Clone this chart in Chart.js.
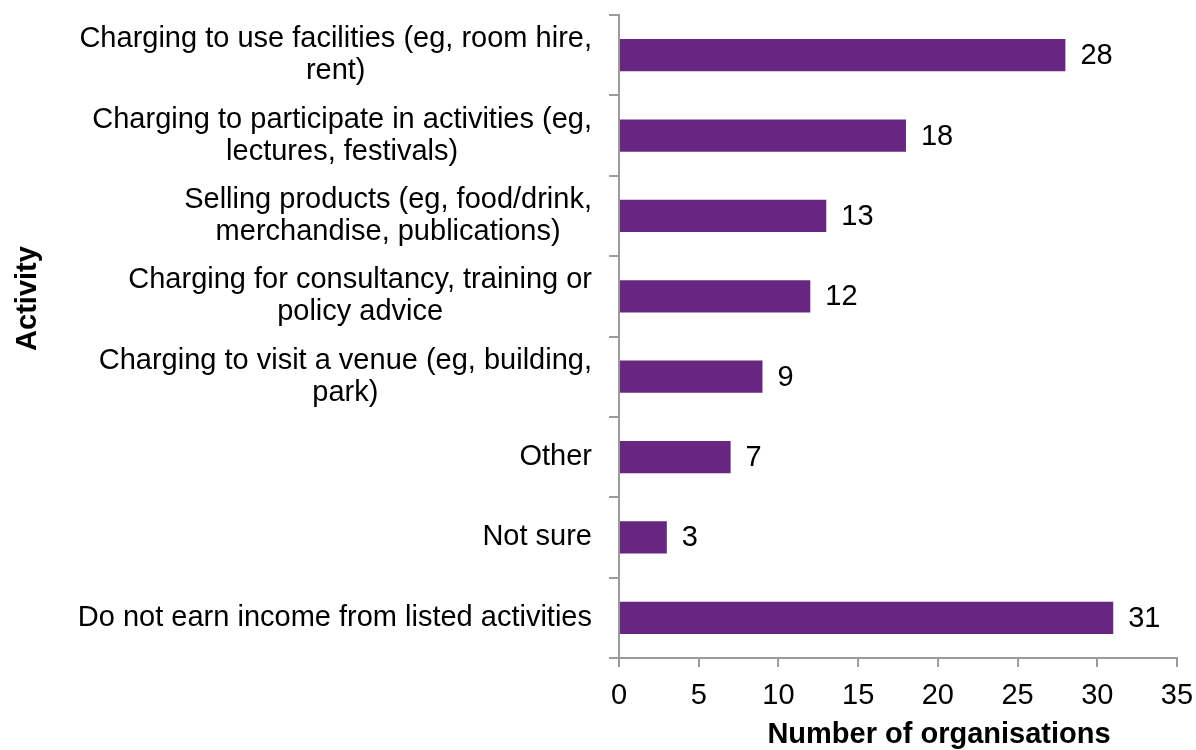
<!DOCTYPE html>
<html>
<head>
<meta charset="utf-8">
<title>Income-earning activities</title>
<script src="https://cdn.jsdelivr.net/npm/chart.js@4.4.0/dist/chart.umd.min.js"></script>
<style>
    html, body { margin: 0; padding: 0; background: #fff; }
    #wrap { width: 1196px; height: 750px; position: relative; }
</style>
</head>
<body>
<div id="wrap"><canvas id="graph" width="1196" height="750"></canvas></div>
<script>
// Catégories (lignes déjà coupées) et valeurs
const activities = [
    ["Charging to use facilities (eg, room hire,", "rent)"],
    ["Charging to participate in activities (eg,", "lectures, festivals)"],
    ["Selling products (eg, food/drink,", "merchandise, publications)"],
    ["Charging for consultancy, training or", "policy advice"],
    ["Charging to visit a venue (eg, building,", "park)"],
    ["Other"],
    ["Not sure"],
    ["Do not earn income from listed activities"]
];
const organisations = [28, 18, 13, 12, 9, 7, 3, 31];
const xMin = 0;
const xMax = 35;
const xStep = 5;
const xTitle = "Number of organisations";
const yTitle = "Activity";

const FONT = "'Liberation Sans', Arial, sans-serif";
const FONT_SIZE = 29;
const AXIS_COLOR = "#9b9b9b";
const BAR_COLOR = "#67267f";

// Étiquettes de l'axe Y : bloc aligné à droite, lignes centrées dans le bloc
const yLabelsPlugin = {
    id: "yLabels",
    afterDraw(chart) {
        const ctx = chart.ctx;
        const yScale = chart.scales.y;
        const right = chart.chartArea.left - 27;
        const lineH = 32;
        ctx.save();
        ctx.font = FONT_SIZE + "px " + FONT;
        ctx.fillStyle = "#000";
        ctx.textAlign = "center";
        ctx.textBaseline = "middle";
        activities.forEach((lines, i) => {
            const py = yScale.getPixelForTick(i);
            const blockW = Math.max(...lines.map(l => ctx.measureText(l).width));
            const cx = right - blockW / 2;
            const y0 = py - (lines.length - 1) * lineH / 2;
            lines.forEach((l, j) => ctx.fillText(l, cx, y0 + j * lineH));
        });
        ctx.restore();
    }
};

// Valeurs à droite des barres
const valueLabelsPlugin = {
    id: "valueLabels",
    afterDatasetsDraw(chart) {
        const ctx = chart.ctx;
        const meta = chart.getDatasetMeta(0);
        ctx.save();
        ctx.font = FONT_SIZE + "px " + FONT;
        ctx.fillStyle = "#000";
        ctx.textAlign = "left";
        ctx.textBaseline = "middle";
        meta.data.forEach((bar, i) => {
            ctx.fillText(String(organisations[i]), bar.x + 15, bar.y + 1);
        });
        ctx.restore();
    }
};

// Titres des axes
const axisTitlesPlugin = {
    id: "axisTitles",
    afterDraw(chart) {
        const ctx = chart.ctx;
        const area = chart.chartArea;
        ctx.save();
        ctx.font = "bold " + FONT_SIZE + "px " + FONT;
        ctx.fillStyle = "#000";
        ctx.textAlign = "center";
        ctx.textBaseline = "middle";
        ctx.fillText(xTitle, (area.left + area.right) / 2 + 41, chart.height - 15);
        ctx.translate(28, (area.top + area.bottom) / 2 - 38);
        ctx.rotate(-Math.PI / 2);
        ctx.fillText(yTitle, 0, 0);
        ctx.restore();
    }
};

const ctx = document.getElementById("graph").getContext("2d");
const graph = new Chart(ctx, {
    type: "bar",
    data: {
        labels: activities,
        datasets: [{
            label: xTitle,
            data: organisations,
            backgroundColor: BAR_COLOR,
            borderWidth: 0,
            categoryPercentage: 0.8,
            barPercentage: 0.5
        }]
    },
    options: {
        indexAxis: "y",
        responsive: false,
        animation: false,
        layout: { padding: { top: 15, right: 19, left: 0, bottom: 0 } },
        plugins: {
            legend: { display: false },
            tooltip: { enabled: false }
        },
        scales: {
            x: {
                min: xMin,
                max: xMax,
                afterFit: scale => {
                    scale.height = 92;
                    scale.paddingLeft = 0;
                    scale.paddingRight = 0;
                },
                ticks: {
                    stepSize: xStep,
                    color: "#000",
                    font: { family: FONT, size: FONT_SIZE },
                    padding: 12
                },
                grid: {
                    drawOnChartArea: false,
                    color: AXIS_COLOR,
                    lineWidth: 2,
                    tickLength: 9
                },
                border: { color: AXIS_COLOR, width: 2 }
            },
            y: {
                afterFit: scale => { scale.width = 619; },
                ticks: { display: false },
                grid: {
                    offset: true,
                    drawOnChartArea: false,
                    color: AXIS_COLOR,
                    lineWidth: 2,
                    tickLength: 10
                },
                border: { color: AXIS_COLOR, width: 2 }
            }
        }
    },
    plugins: [yLabelsPlugin, valueLabelsPlugin, axisTitlesPlugin]
});
</script>
</body>
</html>
